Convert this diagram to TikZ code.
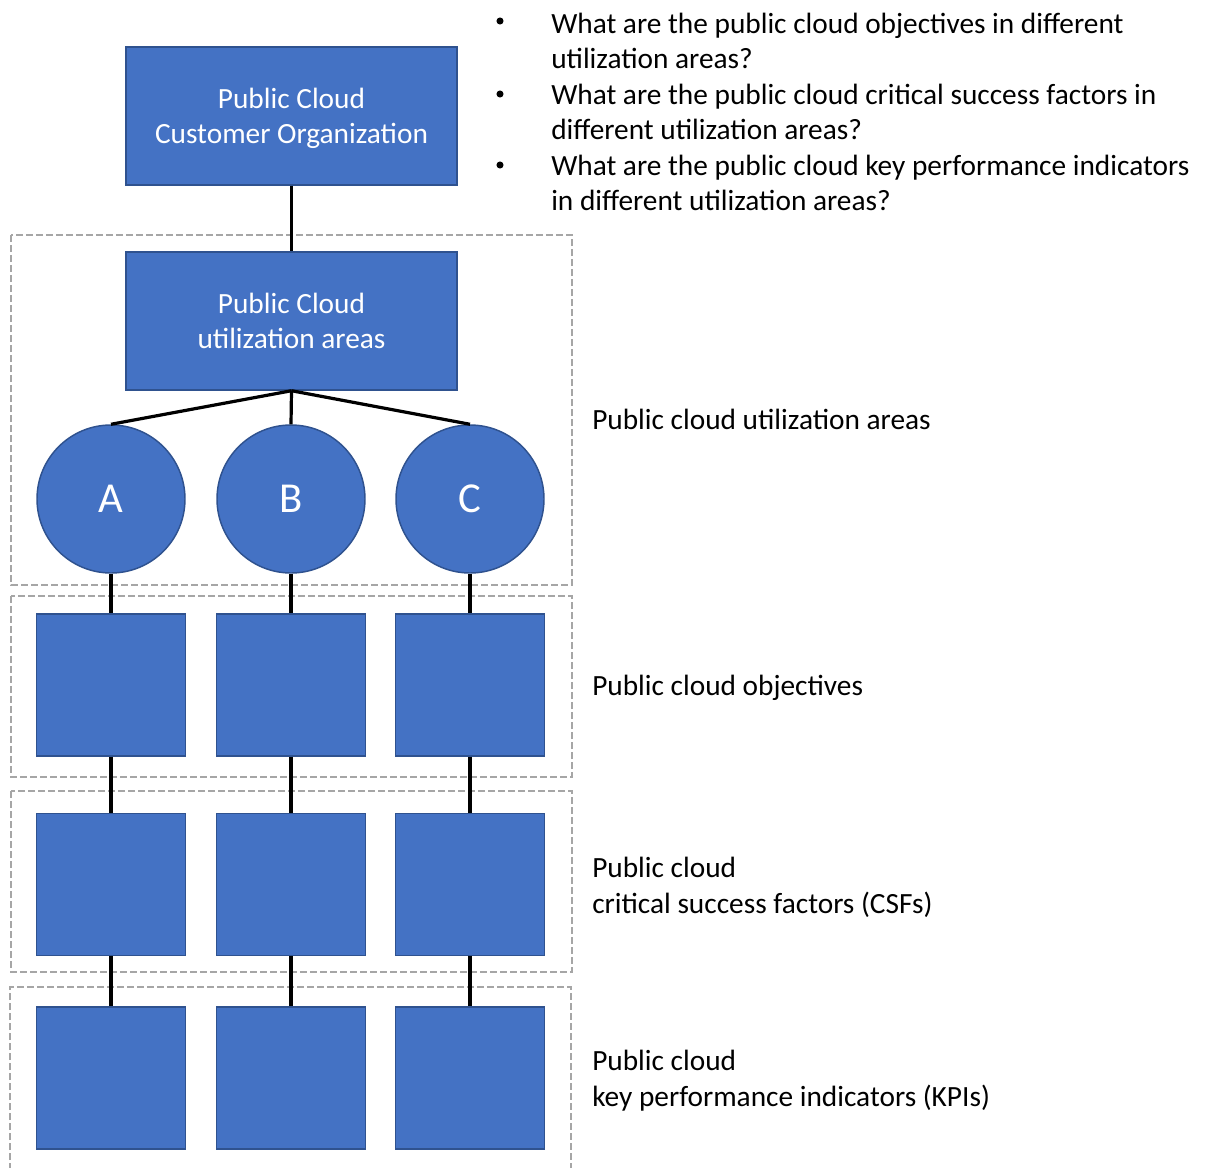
\documentclass[tikz,border=0pt]{standalone}
\usepackage{fontspec}
\setmainfont{Carlito}
\definecolor{boxfill}{HTML}{4472C4}
\definecolor{boxline}{HTML}{2F528F}
\definecolor{groupline}{HTML}{A6A6A6}
% struts that give both title boxes the same text height and depth
\newcommand{\topstrut}{\rule{0pt}{20.5pt}}
\newcommand{\botstrut}{\rule[-5pt]{0pt}{5pt}}
\begin{document}
\begin{tikzpicture}[x=0.75pt,y=-0.75pt,
  blue/.style={fill=boxfill,draw=boxline,line width=1.1pt,inner sep=0pt},
  titlebox/.style={blue,rectangle,minimum width=248.25pt,minimum height=103.5pt,
    text=white,align=center,font=\fontsize{22}{26.3}\selectfont},
  area/.style={blue,circle,minimum size=111pt,text=white,font=\fontsize{32}{36}\selectfont},
  cell/.style={blue,rectangle,minimum width=111.75pt,minimum height=106.5pt},
  link/.style={line width=2.4pt,black},
  group/.style={draw=groupline,line width=1.1pt,dash pattern=on 5pt off 2.5pt},
  label/.style={anchor=base west,align=left,inner sep=0pt,font=\fontsize{22}{26.4}\selectfont},
  bullet/.style={anchor=center,inner sep=0pt,circle,fill=black,minimum size=5.3pt}]
\useasboundingbox (0,0) rectangle (1205,1167);

% dashed grouping frames
\draw[group] (11,235) rectangle (572,585);
\draw[group] (11,596) rectangle (572,777);
\draw[group] (11,791) rectangle (572,972);
\draw[group] (10,1180) -- (10,987) -- (571,987) -- (571,1180);

% hierarchy
\node[titlebox] (org) at (291.5,116) {\topstrut Public Cloud\\Customer Organization\botstrut};
\node[titlebox] (areas) at (291.5,321) {\topstrut Public Cloud\\utilization areas\botstrut};

\foreach \n/\x in {A/111,B/291,C/470}{
  \node[area] (\n) at (\x,499) {\n};
  \node[cell] (\n1) at (\x,685) {};
  \node[cell] (\n2) at (\x,884.5) {};
  \node[cell] (\n3) at (\x,1078) {};
}

% connectors
\draw[link] (org.south) -- (areas.north);
\foreach \n in {A,B,C}{
  \draw[link] (areas.south) -- (\n.north);
  \draw[link] (\n.south) -- (\n1.north);
  \draw[link] (\n1.south) -- (\n2.north);
  \draw[link] (\n2.south) -- (\n3.north);
}

% level captions (placed by the baseline of their last line)
\node[label] (l1) at (592,429) {Public cloud utilization areas};
\node[label] (l2) at (592,695) {Public cloud objectives};
\node[label] (l3) at (592,913) {Public cloud\\critical success factors (CSFs)};
\node[label] (l4) at (592,1106) {Public cloud\\key performance indicators (KPIs)};

% questions
\foreach \y [count=\i] in {21,94,165}{
  \node[bullet] (b\i) at (500,\y) {};
}
\node[label] (q1) at (551,68.5) {What are the public cloud objectives in different\\utilization areas?};
\node[label] (q2) at (551,139.5) {What are the public cloud critical success factors in\\different utilization areas?};
\node[label] (q3) at (551,210.5) {What are the public cloud key performance indicators\\in different utilization areas?};
\end{tikzpicture}
\end{document}
